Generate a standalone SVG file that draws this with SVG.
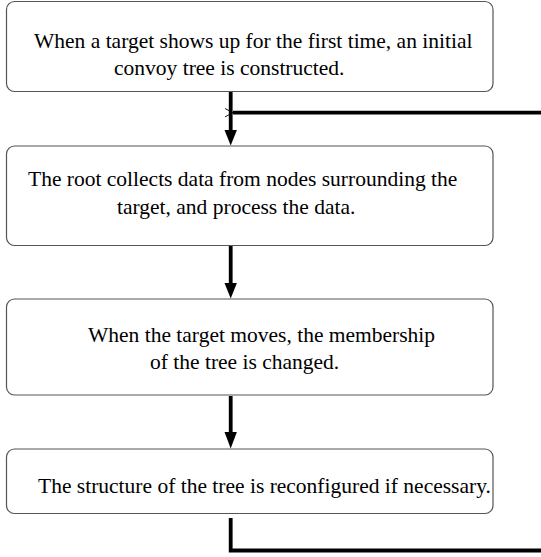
<svg xmlns="http://www.w3.org/2000/svg" width="541" height="557" viewBox="0 0 541 557">
<style>
.box{fill:#fff;stroke:#555;stroke-width:1.2}
.t{font-family:"Liberation Serif","Times New Roman",serif;font-size:21.5px;fill:#000}
.c{fill:none;stroke:#000;stroke-width:3.8}
</style>
<defs>
<marker id="oh" markerWidth="10" markerHeight="10" refX="1" refY="5" orient="auto" markerUnits="userSpaceOnUse" viewBox="0 0 10 10">
<path d="M9,0.8 L1,5 L9,9.2" fill="none" stroke="#000" stroke-width="0.9"/>
</marker>
</defs>
<g id="node1">
<rect class="box" x="6.5" y="1.5" width="486.5" height="90" rx="8"/>
<text class="t" x="34" y="48">When a target shows up for the first time, an initial</text>
<text class="t" x="114" y="75">convoy tree is constructed.</text>
</g>
<g id="node2">
<rect class="box" x="6.5" y="146" width="486.5" height="99.5" rx="8"/>
<text class="t" x="28" y="186">The root collects data from nodes surrounding the</text>
<text class="t" x="117" y="214">target, and process the data.</text>
</g>
<g id="node3">
<rect class="box" x="6.5" y="299" width="486.5" height="96" rx="8"/>
<text class="t" x="88" y="342">When the target moves, the membership</text>
<text class="t" x="150" y="369">of the tree is changed.</text>
</g>
<g id="node4">
<rect class="box" x="6.5" y="449" width="486.5" height="64.5" rx="8"/>
<text class="t" x="38" y="493">The structure of the tree is reconfigured if necessary.</text>
</g>
<g id="connectors">
<line class="c" x1="230.7" y1="92" x2="230.7" y2="132"/>
<path d="M224.5,130 L236.9,130 L230.7,145.5 Z"/>
<line class="c" x1="230.7" y1="246" x2="230.7" y2="285"/>
<path d="M224.5,283 L236.9,283 L230.7,298.5 Z"/>
<line class="c" x1="230.7" y1="396" x2="230.7" y2="434"/>
<path d="M224.5,432 L236.9,432 L230.7,448.5 Z"/>
<polyline class="c" points="230.7,518 230.7,550.5 541,550.5"/>
<line class="c" x1="541" y1="112.7" x2="233" y2="112.7" marker-end="url(#oh)"/>
</g>
</svg>
